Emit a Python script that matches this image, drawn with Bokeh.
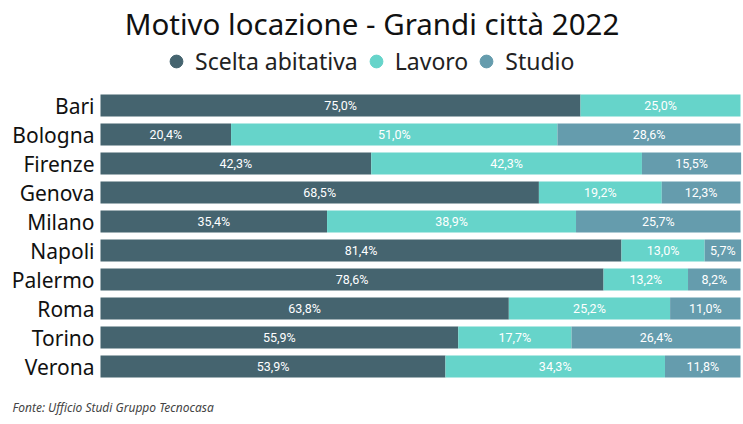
from bokeh.plotting import figure
from bokeh.models import ColumnDataSource, LabelSet, Label, Legend, LegendItem, Range1d
from bokeh.core.properties import value
from bokeh.embed import file_html
from bokeh.resources import INLINE

cities = ["Bari", "Bologna", "Firenze", "Genova", "Milano", "Napoli", "Palermo", "Roma", "Torino", "Verona"]
scelta = [75.0, 20.4, 42.3, 68.5, 35.4, 81.4, 78.6, 63.8, 55.9, 53.9]
lavoro = [25.0, 51.0, 42.3, 19.2, 38.9, 13.0, 13.2, 25.2, 17.7, 34.3]
studio = [0.0, 28.6, 15.5, 12.3, 25.7, 5.7, 8.2, 11.0, 26.4, 11.8]
series = ["Scelta abitativa", "Lavoro", "Studio"]
colors = ["#45646F", "#66D4CA", "#659CAD"]
title_text = "Motivo locazione - Grandi città 2022"
source_text = "Fonte: Ufficio Studi Gruppo Tecnocasa"

W, H = 743, 424
LEFT = 100          # px where the bars start
RIGHT_PAD = 3
ROW0 = 105          # px centre of first row
ROW = 29.0          # px per row
xscale = 100.0 / (W - LEFT - RIGHT_PAD)   # data units per px

def dx(px):
    return (px - LEFT) * xscale

def dy(py):
    return (py - ROW0) / ROW

idx = list(range(len(cities)))
src = ColumnDataSource(dict(y=idx, city=cities, scelta=scelta, lavoro=lavoro, studio=studio))

p = figure(width=W, height=H, output_backend="svg", toolbar_location=None,
           x_range=Range1d(dx(0), dx(W)), y_range=Range1d(dy(H), dy(0)),
           min_border=0)
p.outline_line_color = None
p.background_fill_color = "white"
p.border_fill_color = "white"
p.axis.visible = False
p.grid.visible = False

p.hbar_stack(["scelta", "lavoro", "studio"], y="y", height=0.76, color=colors,
             source=src, line_color=None)

# category labels
p.text(x=dx(94), y="y", text="city", source=src, text_align="right",
       text_baseline="middle", text_font=value("Noto Sans"), text_font_size="21px",
       text_color="#111111")

# value labels centred in each segment
lx, ly, lt = [], [], []
for i in idx:
    left = 0.0
    for v in [scelta[i], lavoro[i], studio[i]]:
        if v > 0:
            lx.append(left + v / 2)
            ly.append(i)
            lt.append(("%.1f" % v).replace(".", ",") + "%")
        left += v
lsrc = ColumnDataSource(dict(x=lx, y=ly, t=lt))
p.add_layout(LabelSet(x="x", y="y", text="t", source=lsrc, text_color="white",
                      text_font=value("Roboto"), text_font_size="12.5px",
                      text_align="center", text_baseline="middle"))

# title
p.add_layout(Label(x=dx(W / 2), y=dy(23), text=title_text, text_align="center",
                   text_baseline="middle", text_font="Noto Sans", text_font_size="29.5px",
                   text_color="#111111"))

# legend with circle markers
items = []
for s, col in zip(series, colors):
    r = p.scatter(x=[float("nan")], y=[float("nan")], marker="circle", size=13, color=col)
    items.append(LegendItem(label=s, renderers=[r]))
legend = Legend(items=items, orientation="horizontal", location=(160, H - 77),
                label_text_font="Noto Sans", label_text_font_size="23px",
                label_text_color="#222222", border_line_color=None,
                background_fill_alpha=0, glyph_width=32, glyph_height=32,
                spacing=2, label_standoff=3, padding=2, margin=0)
p.add_layout(legend, "center")

# source note
p.add_layout(Label(x=dx(12), y=dy(407), text=source_text, text_align="left",
                   text_baseline="middle", text_font="Noto Sans", text_font_size="12px",
                   text_font_style="italic", text_color="#444444"))

open("out.html", "w").write(file_html(p, INLINE))
